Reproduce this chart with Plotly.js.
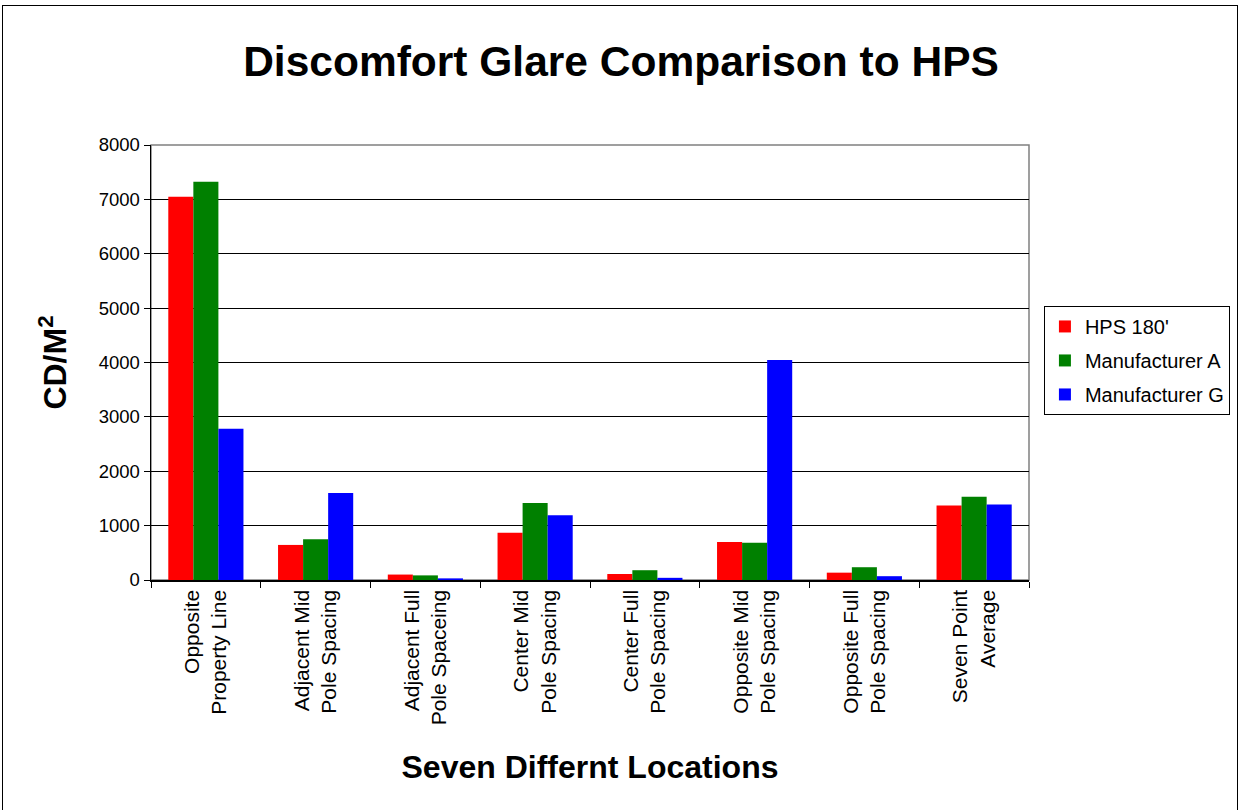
<!DOCTYPE html>
<html><head><meta charset="utf-8">
<script src="https://cdn.plot.ly/plotly-3.0.1.min.js"></script>
<style>
html,body{margin:0;padding:0;background:#fff;}
#wrap{position:relative;width:1242px;height:810px;overflow:hidden;}
#chart{position:absolute;left:0;top:0;width:1242px;height:810px;}
#frame{position:absolute;left:2px;top:5px;width:1234px;height:820px;border:1.5px solid #000;pointer-events:none;}
</style></head>
<body>
<div id="wrap"><div id="chart"></div><div id="frame"></div></div>
<script>
const categories = [
  "Opposite<br>Property Line",
  "Adjacent Mid<br>Pole Spacing",
  "Adjacent Full<br>Pole Spaceing",
  "Center Mid<br>Pole Spacing",
  "Center Full<br>Pole Spacing",
  "Opposite Mid<br>Pole Spacing",
  "Opposite Full<br>Pole Spacing",
  "Seven Point<br>Average"
];
const hps180 = [7050, 645, 100, 870, 110, 700, 135, 1370];
const manufacturerA = [7325, 750, 85, 1415, 180, 685, 235, 1530];
const manufacturerG = [2780, 1600, 30, 1190, 40, 4045, 70, 1390];
const seriesNames = ["HPS 180'", "Manufacturer A", "Manufacturer G"];
const yTicks = [0, 1000, 2000, 3000, 4000, 5000, 6000, 7000, 8000];

const colors = ["#ff0000", "#008000", "#0000ff"];
const seriesData = [hps180, manufacturerA, manufacturerG];
const traces = seriesData.map((vals, i) => ({
  type: 'bar', x: categories, y: vals, name: seriesNames[i], legendgroup: 'g' + i,
  marker: {color: colors[i], line: {width: 0}}
}));
const font = "Arial, 'Liberation Sans', sans-serif";
const layout = {
  width: 1242, height: 810,
  margin: {l: 151, r: 213, t: 145, b: 230, autoexpand: false},
  paper_bgcolor: '#fff', plot_bgcolor: '#fff',
  barmode: 'group', bargap: 0.315, bargroupgap: 0,
  font: {family: font, color: '#000', size: 18},
  title: {text: '<b>Discomfort Glare Comparison to HPS</b>', font: {family: font, size: 42.5, color: '#000'},
          x: 0.5, xanchor: 'center', xref: 'container', y: 0.924, yanchor: 'middle', yref: 'container'},
  xaxis: {
    type: 'category', tickangle: -90, tickfont: {size: 21, family: font},
    showline: true, linecolor: '#000', linewidth: 1.5,
    ticks: 'outside', ticklen: 6, tickcolor: '#000', tickson: 'boundaries',
    showgrid: false,
    title: {text: '<b>Seven Differnt Locations</b>', font: {size: 32, family: font}, standoff: 31}
  },
  yaxis: {
    range: [0, 8000], tickvals: yTicks, ticktext: yTicks.map(String),
    tickfont: {size: 18.5, family: font},
    showline: true, linecolor: '#000', linewidth: 1.5,
    ticks: 'outside', ticklen: 6, tickcolor: '#000',
    showgrid: true, gridcolor: '#000', gridwidth: 1, zeroline: false,
    title: {text: '<b>CD/M<sup>2</sup></b>', font: {size: 32, family: font}, standoff: 22}
  },
  shapes: [{type: 'rect', xref: 'paper', yref: 'paper', x0: 0, x1: 1, y0: 0, y1: 1,
            line: {color: '#808080', width: 1.5}, layer: 'below'}],
  legend: {x: 1.017, xanchor: 'left', y: 0.63, yanchor: 'top',
           bordercolor: '#000', borderwidth: 1, bgcolor: '#fff',
           font: {size: 20, family: font}, tracegroupgap: 5, traceorder: 'grouped',
           itemwidth: 30, itemsizing: 'constant'},
  showlegend: true
};
Plotly.newPlot('chart', traces, layout, {displayModeBar: false, staticPlot: true});
</script>
</body></html>
